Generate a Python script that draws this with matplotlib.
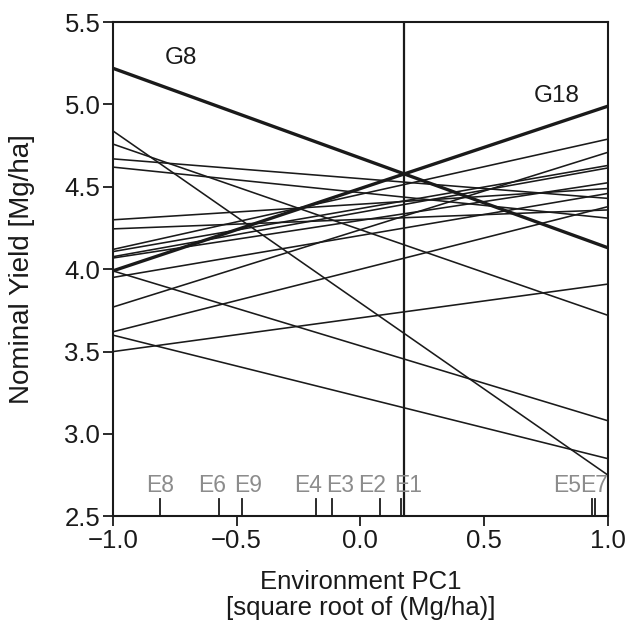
import matplotlib
matplotlib.use("Agg")
import matplotlib.pyplot as plt
import numpy as np

plt.rcParams['font.family'] = ['Liberation Sans', 'DejaVu Sans']

# Genotype yields at environment PC1 = -1 (left) and +1 (right)
genotypes = ["G8", "G18", "G1", "G2", "G3", "G4", "G5", "G6", "G7",
             "G9", "G10", "G11", "G12", "G13", "G14", "G15", "G16", "G17"]
yield_left = [5.22, 3.99, 4.84, 4.76, 4.67, 4.62, 4.30, 4.245, 4.12,
              4.107, 4.076, 4.068, 3.99, 3.95, 3.77, 3.62, 3.60, 3.50]
yield_right = [4.13, 4.99, 2.75, 3.72, 4.43, 4.31, 4.49, 4.36, 4.79,
               4.63, 4.615, 4.525, 3.08, 4.46, 4.71, 4.38, 2.85, 3.91]
highlight = ["G8", "G18"]

# Environment scores on PC1
env_names = ["E8", "E6", "E9", "E4", "E3", "E2", "E1", "", "E5", "E7"]
env_pc1 = [-0.81, -0.57, -0.48, -0.18, -0.115, 0.08, 0.165, 0.175, 0.935, 0.946]

x_ends = np.array([-1.0, 1.0])
dark = "#1a1a1a"

fig = plt.figure(figsize=(6.34, 6.32), dpi=100)
ax = fig.add_axes([0.178, 0.183, 0.781, 0.782])

for g, yl, yr in zip(genotypes, yield_left, yield_right):
    lw = 2.4 if g in highlight else 1.15
    ax.plot(x_ends, [yl, yr], color=dark, lw=lw, solid_capstyle="butt", zorder=3)

# crossing point of the two highlighted genotypes
i8, i18 = genotypes.index("G8"), genotypes.index("G18")
s8 = (yield_right[i8] - yield_left[i8]) / 2
s18 = (yield_right[i18] - yield_left[i18]) / 2
b8 = (yield_right[i8] + yield_left[i8]) / 2
b18 = (yield_right[i18] + yield_left[i18]) / 2
x_cross = (b18 - b8) / (s8 - s18)
ax.axvline(x_cross, color=dark, lw=1.6, zorder=4)

# environment markers
label_x = {"E8": -0.81, "E6": -0.60, "E9": -0.453, "E4": -0.212, "E3": -0.083,
           "E2": 0.047, "E1": 0.191, "E5": 0.835, "E7": 0.942}
for name, xv in zip(env_names, env_pc1):
    ax.plot([xv, xv], [2.5, 2.605], color=dark, lw=1.3, zorder=3)
    if name:
        ax.text(label_x[name], 2.615, name, ha="center", va="bottom",
                color="#8c8c8c", fontsize=16.5, zorder=5)

ax.text(-0.725, 5.28, "G8", ha="center", va="center", fontsize=17.5, color=dark)
ax.text(0.794, 5.05, "G18", ha="center", va="center", fontsize=17.5, color=dark)

ax.set_xlim(-1, 1)
ax.set_ylim(2.5, 5.5)
ax.set_xticks([-1.0, -0.5, 0.0, 0.5, 1.0])
ax.set_xticklabels(["\u22121.0", "\u22120.5", "0.0", "0.5", "1.0"])
ax.set_yticks([2.5, 3.0, 3.5, 4.0, 4.5, 5.0, 5.5])
ax.set_yticklabels(["2.5", "3.0", "3.5", "4.0", "4.5", "5.0", "5.5"])
ax.tick_params(direction="out", length=7, width=1.3, labelsize=18.5,
               colors=dark, pad=2)
for sp in ax.spines.values():
    sp.set_linewidth(1.5)
    sp.set_color(dark)

ax.set_xlabel("Environment PC1\n[square root of (Mg/ha)]", fontsize=18.5,
              color=dark, labelpad=12, linespacing=1.15)
ax.set_ylabel("Nominal Yield [Mg/ha]", fontsize=20, color=dark, labelpad=21)

fig.savefig("out.png", dpi=100)
